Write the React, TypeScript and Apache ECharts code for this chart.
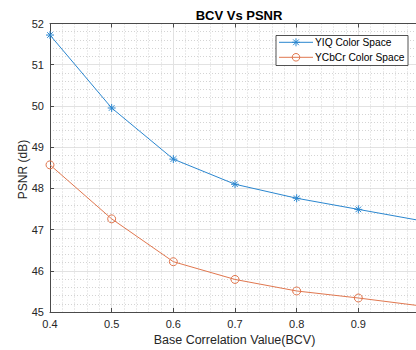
import React, { useEffect, useRef } from "react";
import * as echarts from "echarts";

const bcv = [0.4, 0.5, 0.6, 0.7, 0.8, 0.9, 1.0];
const yiq = [51.72, 49.95, 48.71, 48.1, 47.76, 47.49, 47.22];
const ycbcr = [48.57, 47.26, 46.22, 45.79, 45.51, 45.34, 45.15];
const seriesNames = ["YIQ Color Space", "YCbCr Color Space"];
const title = "BCV Vs PSNR";
const xLabel = "Base Correlation Value(BCV)";
const yLabel = "PSNR (dB)";

const BLUE = "#2a86cf";
const ORANGE = "#e0774f";
const FONT = "Liberation Sans, Arial, sans-serif";
const TXT = "#262626";
const ASTERISK =
  "path://M5,0L5,10M0,5L10,5M1.5,1.5L8.5,8.5M1.5,8.5L8.5,1.5";

// The reference plot box extends past the right edge of the figure:
// x = 1.0 sits ~4px beyond the 416px window, so the visible axis max is a bit below 1.0.
const X_MIN = 0.4;
const X_FULL_MAX = 1.0;
const GRID_LEFT = 50;
const FULL_WIDTH = 370;
const VISIBLE_WIDTH = 366;
const X_VISIBLE_MAX = X_MIN + ((X_FULL_MAX - X_MIN) * VISIBLE_WIDTH) / FULL_WIDTH;

function asteriskLines(cx: number, cy: number, r: number, color: string) {
  const d = r * 0.72;
  const segs = [
    [0, -r, 0, r],
    [-r, 0, r, 0],
    [-d, -d, d, d],
    [-d, d, d, -d],
  ];
  return segs.map((s) => ({
    type: "line",
    shape: { x1: cx + s[0], y1: cy + s[1], x2: cx + s[2], y2: cy + s[3] },
    style: { stroke: color, lineWidth: 1 },
    z: 110,
  }));
}

export default function App() {
  const ref = useRef<HTMLDivElement>(null);
  useEffect(() => {
    document.body.style.margin = "0";
    const chart = echarts.init(ref.current!, null, { renderer: "svg" });
    const axisCommon = {
      type: "value" as const,
      axisLine: { show: true, lineStyle: { color: "#4a4a4a", width: 1 } },
      axisTick: { show: true, inside: true, length: 4, lineStyle: { color: "#4a4a4a" } },
      minorTick: { show: false, splitNumber: 5 },
      splitLine: { show: true, lineStyle: { color: "#e2e2e2", width: 1 } },
      minorSplitLine: { show: true, lineStyle: { color: "#d4d4d4", width: 1, type: [1, 2] as any } },
    };
    const lx = 276, ly = 35.5, lw = 132, lh = 30;
    const row1 = 42.3, row2 = 57.3;
    chart.setOption({
      animation: false,
      backgroundColor: "#ffffff",
      title: {
        text: title,
        left: 234,
        textAlign: "center",
        top: 4,
        textStyle: { fontFamily: FONT, fontSize: 13, fontWeight: "bold", color: "#000" },
      },
      graphic: [
        {
          type: "text",
          x: 23,
          y: 169.5,
          rotation: Math.PI / 2,
          style: { text: yLabel, fontFamily: FONT, fontSize: 12, fill: TXT, align: "center", verticalAlign: "middle" },
        },
        {
          type: "text",
          x: 234.5,
          y: 340,
          style: { text: xLabel, fontFamily: FONT, fontSize: 12.5, fill: TXT, align: "center", verticalAlign: "middle" },
        },
        {
          type: "rect",
          shape: { x: lx, y: ly, width: lw, height: lh },
          style: { fill: "#fff", stroke: "#262626", lineWidth: 0.8 },
          z: 100,
        },
        {
          type: "line",
          shape: { x1: 279, y1: row1, x2: 313, y2: row1 },
          style: { stroke: BLUE, lineWidth: 1 },
          z: 105,
        },
        ...asteriskLines(296, row1, 4, BLUE),
        {
          type: "text",
          x: 315,
          y: row1,
          style: { text: seriesNames[0], fontFamily: FONT, fontSize: 10.2, fill: "#000", verticalAlign: "middle", align: "left" },
          z: 110,
        },
        {
          type: "line",
          shape: { x1: 279, y1: row2, x2: 313, y2: row2 },
          style: { stroke: ORANGE, lineWidth: 1 },
          z: 105,
        },
        {
          type: "circle",
          shape: { cx: 296, cy: row2, r: 3.8 },
          style: { fill: "none", stroke: ORANGE, lineWidth: 1 },
          z: 110,
        },
        {
          type: "text",
          x: 315,
          y: row2,
          style: { text: seriesNames[1], fontFamily: FONT, fontSize: 10.2, fill: "#000", verticalAlign: "middle", align: "left" },
          z: 110,
        },
      ],
      grid: { left: GRID_LEFT, top: 23.5, width: VISIBLE_WIDTH, bottom: 38, containLabel: false },
      xAxis: [
        {
          ...axisCommon,
          min: X_MIN,
          max: X_VISIBLE_MAX,
          interval: 0.1,
          position: "bottom",
          axisLabel: {
            fontFamily: FONT,
            fontSize: 11,
            color: TXT,
            margin: 6,
            showMaxLabel: false,
            formatter: (v: number) => String(+v.toFixed(1)),
          },
        },
        {
          ...axisCommon,
          min: X_MIN,
          max: X_VISIBLE_MAX,
          interval: 0.1,
          position: "top",
          axisLabel: { show: false },
          splitLine: { show: false },
          minorSplitLine: { show: false },
        },
      ],
      yAxis: {
        ...axisCommon,
        min: 45,
        max: 52,
        interval: 1,
        axisLabel: { fontFamily: FONT, fontSize: 11, color: TXT, margin: 6 },
      },
      series: [
        {
          name: seriesNames[0],
          type: "line",
          data: bcv.map((x, i) => [x, yiq[i]]),
          symbol: ASTERISK,
          symbolSize: 8,
          showAllSymbol: true,
          clip: true,
          lineStyle: { color: BLUE, width: 1 },
          itemStyle: { color: "rgba(0,0,0,0)", borderColor: BLUE, borderWidth: 1 },
        },
        {
          name: seriesNames[1],
          type: "line",
          data: bcv.map((x, i) => [x, ycbcr[i]]),
          symbol: "circle",
          symbolSize: 8,
          showAllSymbol: true,
          clip: true,
          lineStyle: { color: ORANGE, width: 1 },
          itemStyle: { color: "rgba(0,0,0,0)", borderColor: ORANGE, borderWidth: 1 },
        },
      ],
    });
    return () => chart.dispose();
  }, []);
  return <div ref={ref} style={{ width: 416, height: 350 }} />;
}
